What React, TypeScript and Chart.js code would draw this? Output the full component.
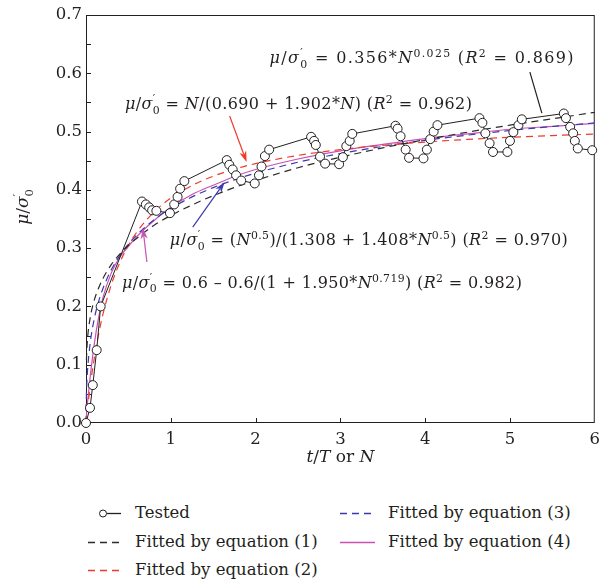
import React, { useEffect, useRef } from "react";
import { Chart, registerables } from "chart.js";

Chart.register(...registerables);

const FONT = '"DejaVu Serif", "Liberation Serif", serif';
const INK = "#231f20";

// ---- data ----
const testedN = [0, 0.047, 0.08, 0.126, 0.173, 0.66, 0.706, 0.745, 0.78, 0.83, 0.99, 1.04, 1.08, 1.11, 1.16, 1.66, 1.69, 1.73, 1.77, 1.83, 1.99, 2.04, 2.07, 2.11, 2.16, 2.655, 2.69, 2.71, 2.76, 2.82, 2.985, 3.03, 3.07, 3.11, 3.14, 3.65, 3.675, 3.71, 3.77, 3.81, 3.98, 4.02, 4.06, 4.1, 4.145, 4.64, 4.675, 4.71, 4.76, 4.8, 4.97, 5.0, 5.04, 5.1, 5.14, 5.635, 5.66, 5.71, 5.745, 5.765, 5.8, 5.97];
const testedMu = [0, 0.026, 0.065, 0.125, 0.2, 0.38, 0.375, 0.37, 0.365, 0.364, 0.36, 0.375, 0.388, 0.402, 0.415, 0.451, 0.443, 0.435, 0.425, 0.416, 0.411, 0.425, 0.44, 0.458, 0.469, 0.491, 0.484, 0.477, 0.457, 0.445, 0.444, 0.456, 0.475, 0.484, 0.496, 0.51, 0.505, 0.492, 0.469, 0.455, 0.454, 0.469, 0.487, 0.5, 0.511, 0.523, 0.515, 0.497, 0.48, 0.465, 0.465, 0.484, 0.499, 0.511, 0.521, 0.531, 0.523, 0.508, 0.497, 0.484, 0.471, 0.468];

const fitN = [0, 0.005, 0.01, 0.02, 0.05, 0.1, 0.15, 0.2, 0.3, 0.4, 0.5, 0.6, 0.8, 1, 1.25, 1.5, 1.75, 2, 2.5, 3, 3.5, 4, 4.5, 5, 5.5, 6];
const fit1 = [null, 0.108, 0.126, 0.148, 0.181, 0.212, 0.232, 0.248, 0.272, 0.29, 0.305, 0.317, 0.339, 0.356, 0.374, 0.39, 0.404, 0.416, 0.438, 0.456, 0.472, 0.486, 0.499, 0.511, 0.522, 0.533];
const fit2 = [0, 0.007, 0.014, 0.0275, 0.0637, 0.1136, 0.1538, 0.1868, 0.238, 0.2757, 0.3047, 0.3277, 0.3617, 0.3858, 0.4075, 0.4234, 0.4355, 0.445, 0.4591, 0.469, 0.4764, 0.482, 0.4865, 0.4902, 0.4932, 0.4958];
const fit3 = [0, 0.0502, 0.069, 0.0938, 0.1378, 0.1804, 0.209, 0.2308, 0.2634, 0.2877, 0.307, 0.3229, 0.3484, 0.3682, 0.3879, 0.4039, 0.4172, 0.4287, 0.4474, 0.4623, 0.4746, 0.485, 0.4939, 0.5018, 0.5087, 0.5148];
const fit4 = [0, 0.012, 0.022, 0.038, 0.08, 0.138, 0.182, 0.215, 0.258, 0.285, 0.303, 0.32, 0.347, 0.37, 0.392, 0.408, 0.423, 0.435, 0.453, 0.467, 0.478, 0.488, 0.496, 0.504, 0.509, 0.514];

const xTicksMax = 6;
const yTicksMax = 0.7;

const legendLabels = ["Tested", "Fitted by equation (1)", "Fitted by equation (2)", "Fitted by equation (3)", "Fitted by equation (4)"];
const seriesColors = [INK, "#2a2a2a", "#ee3b2c", "#3a3aae", "#c852b4"];

type Seg = { t: string; s?: "i" | "sup" | "sub" | "ss"; b?: string };

const MU: Seg[] = [{ t: "μ", s: "i" }, { t: "/" }, { t: "σ", s: "i" }, { t: "′", s: "ss", b: "0" }];

const annotations: { segs: Seg[]; at: [number, number]; w: number }[] = [
  { segs: [...MU, { t: " = 0.356*" }, { t: "N", s: "i" }, { t: "0.025", s: "sup" }, { t: " (" }, { t: "R", s: "i" }, { t: "2", s: "sup" }, { t: " = 0.869)" }], at: [2.165, 0.6175], w: 304 },
  { segs: [...MU, { t: " = " }, { t: "N", s: "i" }, { t: "/(0.690 + 1.902*" }, { t: "N", s: "i" }, { t: ") (" }, { t: "R", s: "i" }, { t: "2", s: "sup" }, { t: " = 0.962)" }], at: [0.459, 0.5386], w: 347 },
  { segs: [...MU, { t: " = (" }, { t: "N", s: "i" }, { t: "0.5", s: "sup" }, { t: ")/(1.308 + 1.408*" }, { t: "N", s: "i" }, { t: "0.5", s: "sup" }, { t: ") (" }, { t: "R", s: "i" }, { t: "2", s: "sup" }, { t: " = 0.970)" }], at: [0.988, 0.3053], w: 398 },
  { segs: [...MU, { t: " = 0.6 – 0.6/(1 + 1.950*" }, { t: "N", s: "i" }, { t: "0.719", s: "sup" }, { t: ") (" }, { t: "R", s: "i" }, { t: "2", s: "sup" }, { t: " = 0.982)" }], at: [0.4235, 0.2316], w: 400 },
];

const pointers: { from: [number, number]; to: [number, number]; color: string; head: boolean }[] = [
  { from: [5.235, 0.6021], to: [5.376, 0.5317], color: INK, head: false },
  { from: [1.694, 0.5266], to: [1.894, 0.4477], color: "#ee3b2c", head: true },
  { from: [1.259, 0.3362], to: [1.635, 0.4134], color: "#3a3aae", head: true },
  { from: [0.718, 0.2762], to: [0.671, 0.3345], color: "#c852b4", head: true },
];

function fontFor(kind: string, size: number) {
  const small = kind === "sup" || kind === "sub" || kind === "ss";
  const sz = small ? size * 0.68 : size;
  return `${kind === "i" ? "italic " : ""}${sz}px ${FONT}`;
}

function layoutRich(ctx: CanvasRenderingContext2D, segs: Seg[], size: number) {
  const items: { parts: { ch: string; dy: number }[]; font: string; w: number }[] = [];
  for (const sg of segs) {
    const k = sg.s || "r";
    if (k === "ss") {
      ctx.font = fontFor("ss", size);
      const w = Math.max(ctx.measureText(sg.t).width, ctx.measureText(sg.b || "").width);
      items.push({ parts: [{ ch: sg.t, dy: -0.42 * size }, { ch: sg.b || "", dy: 0.28 * size }], font: ctx.font, w });
    } else {
      ctx.font = fontFor(k, size);
      for (const ch of sg.t) {
        items.push({ parts: [{ ch, dy: k === "sup" ? -0.4 * size : k === "sub" ? 0.28 * size : 0 }], font: ctx.font, w: ctx.measureText(ch).width });
      }
    }
  }
  return items;
}

function drawRich(ctx: CanvasRenderingContext2D, segs: Seg[], x: number, y: number, size: number, color: string, targetW = 0, center = false) {
  const items = layoutRich(ctx, segs, size);
  const nat = items.reduce((a, b) => a + b.w, 0);
  const extra = targetW && items.length > 1 ? (targetW - nat) / (items.length - 1) : 0;
  const total = nat + extra * (items.length - 1);
  let cx = center ? x - total / 2 : x;
  ctx.fillStyle = color;
  ctx.textAlign = "left";
  ctx.textBaseline = "alphabetic";
  for (const it of items) {
    ctx.font = it.font;
    for (const p of it.parts) ctx.fillText(p.ch, cx, y + p.dy);
    cx += it.w + extra;
  }
}

const decorPlugin = {
  id: "decor",
  beforeDatasetsDraw(chart: any) {
    const { ctx, chartArea: a, scales } = chart;
    const xs = scales.x, ys = scales.y;
    ctx.save();
    ctx.strokeStyle = INK;
    ctx.lineWidth = 1;
    ctx.strokeRect(a.left + 0.5, a.top + 0.5, a.right - a.left - 1, a.bottom - a.top - 1);
    ctx.beginPath();
    for (let v = 0.05; v < yTicksMax - 0.001; v += 0.05) {
      const py = Math.round(ys.getPixelForValue(v)) + 0.5;
      ctx.moveTo(a.left, py);
      ctx.lineTo(a.left + 5, py);
    }
    for (let v = 1; v < xTicksMax; v += 1) {
      const px = Math.round(xs.getPixelForValue(v)) + 0.5;
      ctx.moveTo(px, a.bottom);
      ctx.lineTo(px, a.bottom - 5);
    }
    ctx.stroke();
    drawRich(ctx, [{ t: "t", s: "i" }, { t: "/" }, { t: "T", s: "i" }, { t: " or " }, { t: "N", s: "i" }], (a.left + a.right) / 2, a.bottom + 39, 17, INK, 0, true);
    ctx.translate(a.left - 58, (a.top + a.bottom) / 2 - 12);
    ctx.rotate(-Math.PI / 2);
    drawRich(ctx, MU, 0, 0, 17, INK, 0, true);
    ctx.restore();
  },
  afterDatasetsDraw(chart: any) {
    const { ctx, scales } = chart;
    const xs = scales.x, ys = scales.y;
    ctx.save();
    for (const p of pointers) {
      const x1 = xs.getPixelForValue(p.from[0]), y1 = ys.getPixelForValue(p.from[1]);
      const x2 = xs.getPixelForValue(p.to[0]), y2 = ys.getPixelForValue(p.to[1]);
      ctx.strokeStyle = p.color;
      ctx.fillStyle = p.color;
      ctx.lineWidth = 1.2;
      const ang = Math.atan2(y2 - y1, x2 - x1);
      const hl = 11;
      const ex = p.head ? x2 - Math.cos(ang) * hl * 0.7 : x2;
      const ey = p.head ? y2 - Math.sin(ang) * hl * 0.7 : y2;
      ctx.beginPath();
      ctx.moveTo(x1, y1);
      ctx.lineTo(ex, ey);
      ctx.stroke();
      if (p.head) {
        const hw = 3.6;
        const bx = x2 - Math.cos(ang) * hl, by = y2 - Math.sin(ang) * hl;
        const nx = -Math.sin(ang), ny = Math.cos(ang);
        ctx.beginPath();
        ctx.moveTo(x2, y2);
        ctx.lineTo(bx + nx * hw, by + ny * hw);
        ctx.lineTo(x2 - Math.cos(ang) * hl * 0.7, y2 - Math.sin(ang) * hl * 0.7);
        ctx.lineTo(bx - nx * hw, by - ny * hw);
        ctx.closePath();
        ctx.fill();
      }
    }
    for (const an of annotations) {
      drawRich(ctx, an.segs, xs.getPixelForValue(an.at[0]), ys.getPixelForValue(an.at[1]), 16, INK, an.w);
    }
    ctx.restore();
  },
};

export default function App() {
  const ref = useRef<HTMLCanvasElement | null>(null);
  useEffect(() => {
    if (!ref.current) return;
    const pts = (ys: (number | null)[]) => fitN.map((x, i) => ({ x, y: ys[i] })).filter((p) => p.y !== null);
    const fitStyle = (color: string, dashed: boolean) => ({
      borderColor: color,
      borderWidth: 1.2,
      borderDash: dashed ? [7, 5] : [],
      pointRadius: 0,
      cubicInterpolationMode: "monotone" as const,
      fill: false,
      clip: false as const,
    });
    const chart = new Chart(ref.current, {
      type: "line",
      data: {
        datasets: [
          {
            label: legendLabels[0],
            data: testedN.map((x, i) => ({ x, y: testedMu[i] })),
            borderColor: seriesColors[0],
            borderWidth: 1,
            pointRadius: 4.5,
            pointBackgroundColor: "#ffffff",
            pointBorderColor: seriesColors[0],
            pointBorderWidth: 1,
            tension: 0,
            clip: false,
          },
          { label: legendLabels[1], data: pts(fit1), ...fitStyle(seriesColors[1], true) },
          { label: legendLabels[2], data: pts(fit2), ...fitStyle(seriesColors[2], true) },
          { label: legendLabels[3], data: pts(fit3), ...fitStyle(seriesColors[3], true) },
          { label: legendLabels[4], data: pts(fit4), ...fitStyle(seriesColors[4], false) },
        ],
      } as any,
      options: {
        animation: false,
        responsive: false,
        events: [],
        layout: { padding: { top: 15, right: 11, left: 0, bottom: 0 } },
        plugins: { legend: { display: false }, tooltip: { enabled: false } },
        scales: {
          x: {
            type: "linear",
            min: 0,
            max: xTicksMax,
            ticks: { stepSize: 1, padding: 7, color: INK, font: { family: FONT, size: 16.5 }, callback: (v: any) => String(v) },
            grid: { display: false, drawTicks: false },
            border: { display: false },
            afterFit: (s: any) => { s.height = 57; },
          },
          y: {
            type: "linear",
            min: 0,
            max: yTicksMax,
            ticks: { stepSize: 0.1, padding: 4, color: INK, font: { family: FONT, size: 16.5 }, callback: (v: any) => Number(v).toFixed(1) },
            grid: { display: false, drawTicks: false },
            border: { display: false },
            afterFit: (s: any) => { s.width = 86; },
          },
        },
      } as any,
      plugins: [decorPlugin],
    });
    return () => chart.destroy();
  }, []);

  const rows = [
    { i: 0, x1: 88, x2: 121, tx: 135, y: 513, marker: true, dash: "" },
    { i: 1, x1: 88, x2: 121, tx: 135, y: 542, marker: false, dash: "7 5" },
    { i: 2, x1: 88, x2: 121, tx: 135, y: 570, marker: false, dash: "7 5" },
    { i: 3, x1: 340, x2: 375, tx: 388, y: 513, marker: false, dash: "7 5" },
    { i: 4, x1: 340, x2: 375, tx: 388, y: 542, marker: false, dash: "" },
  ];

  return (
    <div style={{ position: "fixed", left: 0, top: 0, width: 607, height: 584, background: "#fff" }}>
      <canvas ref={ref} width={607} height={480} style={{ position: "absolute", left: 0, top: 0, width: 607, height: 480 }} />
      <svg width={607} height={104} style={{ position: "absolute", left: 0, top: 480 }}>
        {rows.map((r) => (
          <g key={r.i}>
            <line x1={r.marker ? 107 : r.x1} x2={r.x2} y1={r.y - 480 + 0.5} y2={r.y - 480 + 0.5} stroke={seriesColors[r.i]} strokeWidth={1.3} strokeDasharray={r.dash || undefined} />
            {r.marker ? <circle cx={103} cy={r.y - 480 + 0.5} r={3.5} fill="#fff" stroke={INK} strokeWidth={1} /> : null}
          </g>
        ))}
      </svg>
      {rows.map((r) => (
        <div key={"t" + r.i} style={{ position: "absolute", left: r.tx, top: r.y - 11, height: 22, lineHeight: "22px", fontFamily: FONT, fontSize: 16.5, color: INK, whiteSpace: "nowrap" }}>
          {legendLabels[r.i]}
        </div>
      ))}
    </div>
  );
}
